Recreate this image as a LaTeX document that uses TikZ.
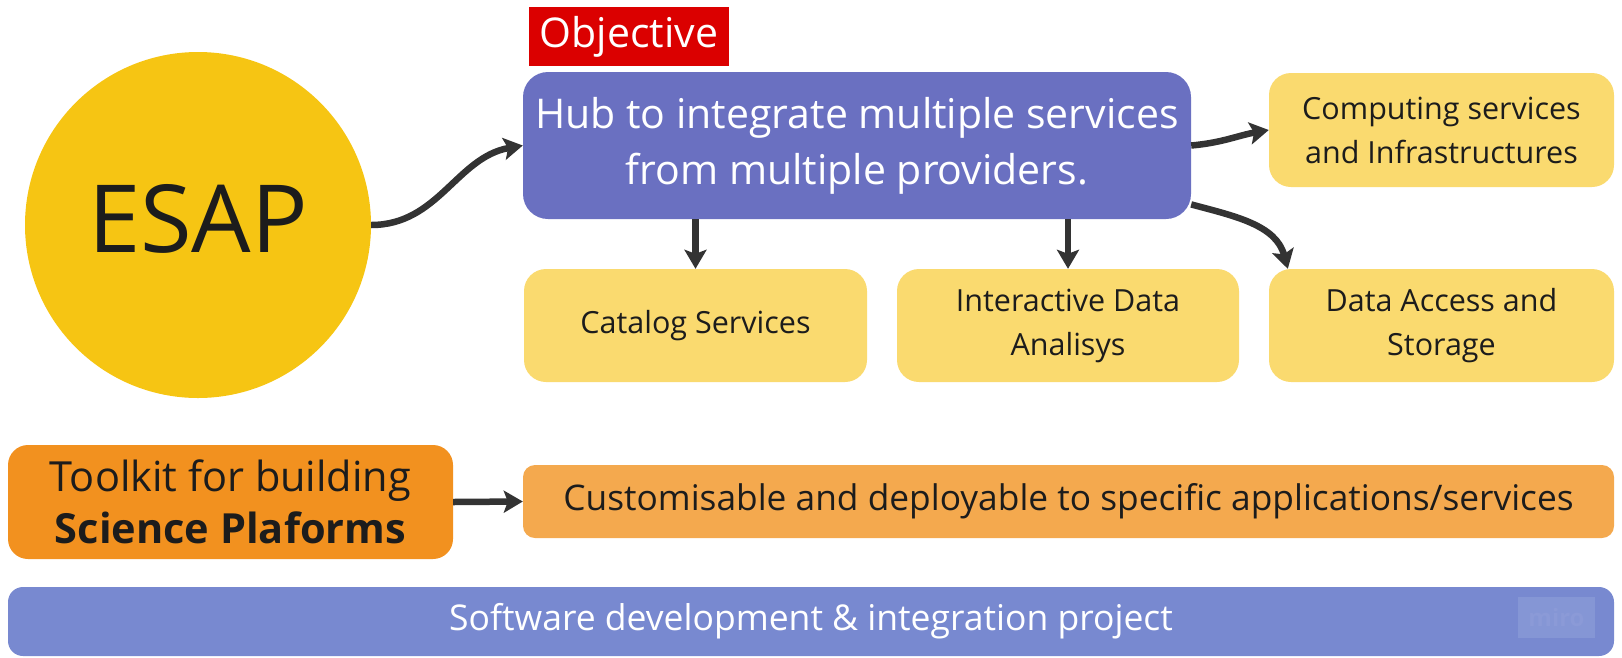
\documentclass[tikz,border=0pt]{standalone}
\usepackage{fontspec}
\setmainfont{Open Sans}
\usetikzlibrary{arrows.meta}
\definecolor{esapyellow}{HTML}{F6C513}
\definecolor{objred}{HTML}{DB0000}
\definecolor{hubblue}{HTML}{6A70C1}
\definecolor{lightyellow}{HTML}{FADA6F}
\definecolor{toolorange}{HTML}{F2911F}
\definecolor{custorange}{HTML}{F4A94E}
\definecolor{barblue}{HTML}{7889D0}
\definecolor{mirofill}{HTML}{8596D5}
\definecolor{mirotext}{HTML}{8B9AD7}
\definecolor{arrowgray}{HTML}{333333}
\definecolor{txtdark}{HTML}{1C1C1C}
\begin{document}
\begin{tikzpicture}[x=1pt,y=-1pt,
  conn/.style={draw=arrowgray, line width=6.5pt, -{Stealth[length=19pt,width=22pt,inset=4pt]}},
  box/.style={rectangle, rounded corners=#1, inner sep=0pt, align=center},
  ybox/.style={box=22pt, fill=lightyellow, minimum height=113pt, text=txtdark,
    font=\fontsize{30.5}{44}\selectfont},
]
\useasboundingbox (0,0) rectangle (1622,657);

\node[circle, fill=esapyellow, minimum size=346pt, inner sep=0pt, text depth=13pt,
  text=txtdark, font=\fontsize{94}{100}\selectfont] (esap) at (198,225) {ESAP};

\node[box=0pt, fill=objred, minimum width=200pt, minimum height=59pt, text=white,
  font=\fontsize{41}{48}\selectfont] (obj) at (629,36.5) {Objective};

\node[box=25pt, fill=hubblue, minimum width=668pt, minimum height=147pt, text=white,
  font=\fontsize{41}{56}\selectfont] (hub) at (857,145.5)
  {Hub to integrate multiple services\\from multiple providers.};

\node[ybox, minimum width=345pt, minimum height=114pt] (comp) at (1441.5,130)
  {Computing services\\and Infrastructures};
\node[ybox, minimum width=343pt] (cat) at (695.5,325.5) {Catalog Services};
\node[ybox, minimum width=342pt] (inter) at (1068,325.5) {Interactive Data\\Analisys};
\node[ybox, minimum width=345pt] (data) at (1441.5,325.5) {Data Access and\\Storage};

\node[box=20pt, fill=toolorange, minimum width=445pt, minimum height=114pt, text=txtdark,
  font=\fontsize{41.5}{52}\selectfont] (toolkit) at (230.5,502)
  {Toolkit for building\\\textbf{Science Plaforms}};

\node[box=12pt, fill=custorange, minimum width=1091pt, minimum height=73pt, text=txtdark,
  font=\fontsize{35.3}{42}\selectfont] (custom) at (1068.5,501.5)
  {Customisable and deployable to specific applications/services};

\node[box=15pt, fill=barblue, minimum width=1606pt, minimum height=69pt, text=white,
  font=\fontsize{35.5}{42}\selectfont] (bar) at (811,621.5)
  {Software development \& integration project};

\node[box=0pt, fill=mirofill, minimum width=77pt, minimum height=41pt, text=mirotext,
  font=\fontsize{24}{28}\selectfont\bfseries] (miro) at (1556.5,617.5) {miro};

\draw[conn] (esap.east) to[out=0,in=190] (hub.west);
\draw[conn] (hub.east) to[out=5,in=190] (comp.west);
\draw[conn] (hub.south -| cat.north) -- (cat.north);
\draw[conn] (hub.south -| inter.north) -- (inter.north);
\draw[conn] (hub.-10.6) to[out=-15,in=105] ([xshift=19pt]data.north west);
\draw[conn] (toolkit.east) -- (custom.west);
\end{tikzpicture}
\end{document}
